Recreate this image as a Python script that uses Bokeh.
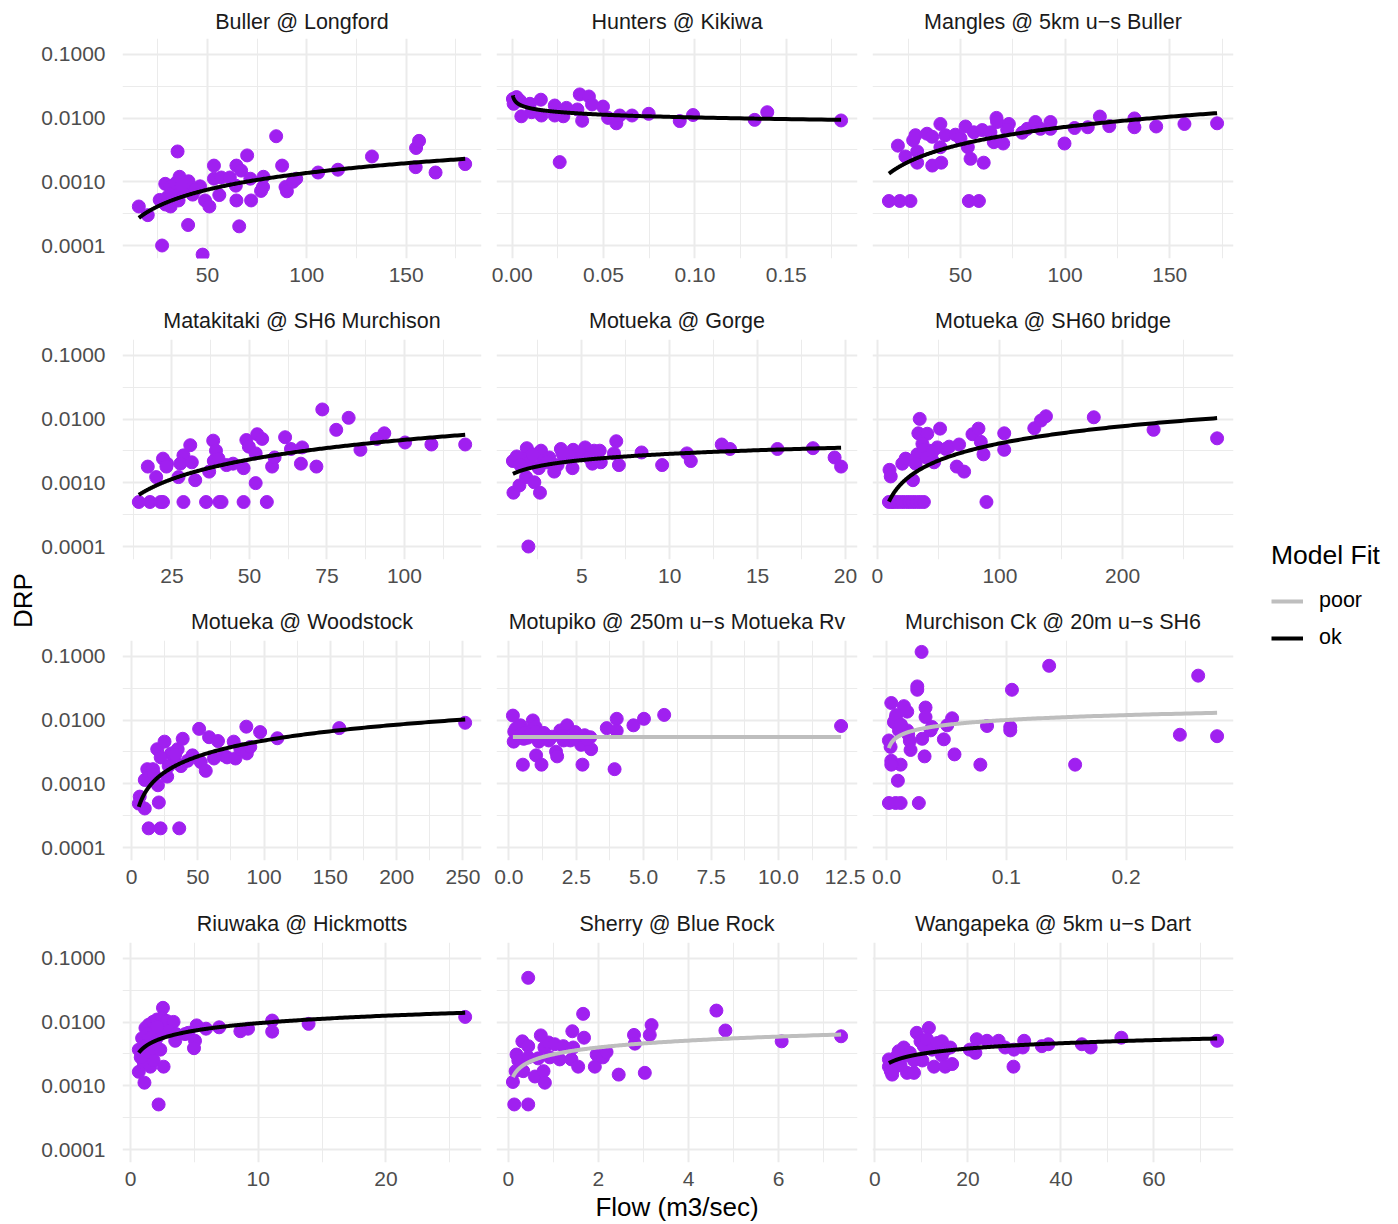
import numpy as np
from bokeh.plotting import figure
from bokeh.models import (Range1d, FixedTicker, PrintfTickFormatter, Legend,
                          LegendItem, Label)
from bokeh.layouts import row, column
from bokeh.embed import file_html
from bokeh.resources import INLINE

FONT = "Liberation Sans"
POINT_COLOR = "#A020F0"
FIT_COLORS = {"poor": "#BEBEBE", "ok": "#000000"}
GRID_COLOR = "#EBEBEB"

# ---------------- data ----------------
BULLER_FLOW = [15.5, 20, 27.2, 35, 26, 28.8, 31.3, 33, 31.5, 29, 36, 40.5, 38, 35.5, 40.3,
               42.6, 46.3, 47.6, 48.8, 51, 53.3, 53.3, 56, 57, 61.3, 64.6, 64.3, 64.6, 66, 67,
               70, 71.6, 72, 77, 78.2, 78, 84.6, 87.6, 89.3, 90, 93, 94.7, 105.7, 115.7, 132.8,
               155, 156.5, 154.8, 164.8, 179.7, 34, 37, 44, 30]
BULLER_DRP = [0.00041, 0.0003, 0.0001, 0.0030, 0.00052, 0.00093, 0.00083, 0.00069, 0.00041,
              0.00044, 0.0012, 0.00102, 0.00078, 0.00051, 0.00021, 0.00063, 0.00085, 0.000072,
              0.00051, 0.00041, 0.0018, 0.00112, 0.00062, 0.00117, 0.00117, 0.0018, 0.00087,
              0.00051, 0.0002, 0.0015, 0.0026, 0.00112, 0.00051, 0.00072, 0.0012, 0.00083,
              0.0052, 0.0018, 0.00083, 0.00071, 0.0010, 0.00112, 0.0014, 0.00155, 0.0025,
              0.0034, 0.0044, 0.0017, 0.0014, 0.0019, 0.00095, 0.00088, 0.00075, 0.00058]

HUNTERS_FLOW = [0.0004, 0.0008, 0.0024, 0.0042, 0.005, 0.0097, 0.0106, 0.0157, 0.016, 0.0233,
                0.0233, 0.026, 0.028, 0.0297, 0.0357, 0.037, 0.0383, 0.042, 0.0437, 0.0497,
                0.0525, 0.057, 0.0589, 0.0656, 0.0747, 0.0917, 0.099, 0.1327, 0.1396, 0.18]
HUNTERS_DRP = [0.020, 0.0168, 0.0214, 0.0189, 0.0107, 0.0168, 0.0124, 0.0195, 0.011, 0.0158,
               0.011, 0.00204, 0.0107, 0.0145, 0.0137, 0.0236, 0.0091, 0.0219, 0.0164, 0.0152,
               0.0101, 0.0083, 0.011, 0.011, 0.0117, 0.009, 0.0112, 0.0094, 0.0124, 0.0092]

MANGLES_FLOW = [15.8, 21, 26.1, 20.1, 23.7, 29.3, 29.3, 27.4, 28.5, 34, 36.5, 36.5, 40.4, 40.4,
                40.8, 42.8, 47.6, 50, 52.4, 53.5, 54.8, 54, 58.8, 56.4, 60.4, 61.1, 64.3, 65.9,
                67.2, 67.5, 70.4, 73.1, 72.3, 79.5, 81.9, 85.8, 88.2, 93, 93, 99.7, 104.5,
                110.8, 116.6, 121.1, 133.1, 133.1, 143.5, 157, 172.6]
MANGLES_DRP = [0.0005, 0.0005, 0.0005, 0.0037, 0.0025, 0.0030, 0.0020, 0.0045, 0.0054, 0.0057,
               0.0051, 0.0018, 0.0081, 0.0035, 0.0020, 0.0054, 0.0055, 0.0048, 0.0074, 0.0035,
               0.0023, 0.0005, 0.0005, 0.0060, 0.0065, 0.0020, 0.0060, 0.0042, 0.0101, 0.0087,
               0.0040, 0.0081, 0.0066, 0.0059, 0.0068, 0.0087, 0.0068, 0.0087, 0.0068, 0.0040,
               0.0070, 0.0072, 0.0106, 0.0075, 0.0099, 0.0072, 0.0074, 0.0081, 0.0083]

MATAKITAKI_FLOW = [14.3, 17.9, 21.3, 22.1, 28.7, 36, 40.3, 41, 48.1, 55.6, 17.2, 19.9, 22.1,
                   23.4, 23.2, 27.1, 28.7, 27.7, 30.9, 31.4, 32.5, 37, 38.3, 39.2, 38.5, 40,
                   42.6, 44.7, 48.1, 49, 49.8, 52, 52, 52.5, 54.1, 57.3, 58.1, 61.5, 63.4, 66.6,
                   67, 71.6, 73.5, 78, 82, 85.8, 91.1, 93.5, 100.2, 108.7, 119.6]
MATAKITAKI_DRP = [0.0005, 0.0005, 0.0005, 0.0005, 0.0005, 0.0005, 0.0005, 0.0005, 0.0005,
                  0.0005, 0.0018, 0.00123, 0.0024, 0.0020, 0.0018, 0.00123, 0.0027, 0.0020,
                  0.0039, 0.0021, 0.0011, 0.0015, 0.0046, 0.0032, 0.0022, 0.0024, 0.0019,
                  0.0020, 0.0017, 0.0047, 0.0037, 0.0029, 0.00099, 0.0058, 0.0049, 0.0018,
                  0.0025, 0.0052, 0.0034, 0.0020, 0.0036, 0.0018, 0.0142, 0.0068, 0.0105,
                  0.0033, 0.0049, 0.0060, 0.0043, 0.0040, 0.0040]

GORGE_FLOW = [1.08, 1.11, 1.45, 1.87, 1.96, 1.64, 1.83, 2.02, 2.30, 2.55, 2.62, 2.68, 2.77,
              3.15, 3.43, 3.62, 3.81, 4.09, 4.47, 4.51, 4.75, 5.19, 5.6, 5.7, 6.02, 6.08, 6.83,
              6.96, 7.11, 8.40, 9.57, 10.98, 11.2, 12.96, 13.43, 16.13, 18.15, 19.38, 19.75,
              1.3, 1.5, 2.2, 3.0, 3.9, 5.0, 5.4]
GORGE_DRP = [0.0022, 0.0007, 0.00091, 0.0035, 0.0001, 0.0024, 0.00123, 0.0021, 0.00102, 0.0017,
             0.0007, 0.0032, 0.0022, 0.0025, 0.0015, 0.0019, 0.0034, 0.0025, 0.0017, 0.0033,
             0.0027, 0.0036, 0.0020, 0.0032, 0.0032, 0.0021, 0.0029, 0.0045, 0.0019, 0.0030,
             0.0019, 0.0029, 0.0022, 0.0040, 0.0034, 0.0034, 0.0035, 0.0025, 0.0018, 0.0026,
             0.0019, 0.0028, 0.0021, 0.0029, 0.0027, 0.0025]

SH60_FLOW = [9.5, 12, 14, 17, 20, 23, 26, 29, 32, 35, 38, 89, 10, 11, 20.4, 23.1, 29.1, 34.6,
             33.5, 40.8, 36.8, 32.7, 31.3, 42.2, 46.3, 49, 51.2, 55.8, 58.6, 64.8, 66.7, 70.8,
             77.6, 82.5, 84.4, 86.6, 103.5, 103.5, 128, 133.4, 137.5, 176.5, 225.2, 277, 38,
             44, 40, 45]
SH60_DRP = [0.0005, 0.0005, 0.0005, 0.0005, 0.0005, 0.0005, 0.0005, 0.0005, 0.0005, 0.0005,
            0.0005, 0.0005, 0.0016, 0.00126, 0.0020, 0.0024, 0.0011, 0.0101, 0.0060, 0.0059,
            0.0041, 0.0028, 0.0020, 0.0032, 0.0021, 0.0036, 0.0071, 0.0034, 0.0037, 0.0018,
            0.0040, 0.0015, 0.0058, 0.0071, 0.0044, 0.0028, 0.0060, 0.0033, 0.0072, 0.0095,
            0.0111, 0.0107, 0.0068, 0.0050, 0.0033, 0.0028, 0.0025, 0.0031]

WOODSTOCK_FLOW = [12.9, 21.9, 36, 6.2, 5.5, 10, 20.6, 10, 11.9, 14.9, 19.9, 16.2, 19.4, 24.9,
                  26.9, 29.9, 32.3, 34.8, 38.6, 37.3, 42.3, 46, 51, 52.2, 56, 58.5, 62.2, 65.2,
                  69.7, 72.1, 77.1, 78.4, 82.1, 86.6, 87, 89.6, 97, 110, 156.7, 251.7, 13, 17,
                  22, 28, 33]
WOODSTOCK_DRP = [0.0002, 0.0002, 0.0002, 0.00063, 0.00049, 0.00041, 0.00051, 0.00115, 0.0017,
                 0.00145, 0.00095, 0.0017, 0.0035, 0.0046, 0.0013, 0.0030, 0.0023, 0.0035,
                 0.0051, 0.0019, 0.0023, 0.0028, 0.0073, 0.0022, 0.0016, 0.0054, 0.0025,
                 0.0047, 0.0028, 0.0026, 0.0046, 0.0025, 0.0035, 0.0079, 0.0030, 0.0038,
                 0.0065, 0.0052, 0.0075, 0.0091, 0.0012, 0.0014, 0.0026, 0.0019, 0.0029]

MOTUPIKO_FLOW = [0.15, 0.18, 0.25, 0.31, 0.43, 0.52, 0.55, 0.74, 0.89, 0.99, 1.01, 1.11, 1.21,
                 1.35, 1.48, 1.75, 1.79, 1.91, 2.03, 2.16, 2.28, 2.46, 2.68, 2.73, 2.81, 3.02,
                 3.05, 3.63, 3.92, 4.0, 4.0, 4.62, 5.01, 5.76, 12.32, 0.2, 0.35, 0.45, 0.6,
                 0.7, 0.8, 1.0, 1.3, 1.6, 2.0, 2.4, 2.9]
MOTUPIKO_DRP = [0.0118, 0.0046, 0.0073, 0.0058, 0.0083, 0.0020, 0.0051, 0.0069, 0.0099, 0.0078,
                0.0028, 0.0046, 0.0020, 0.0058, 0.0048, 0.0032, 0.0027, 0.0069, 0.0048, 0.0083,
                0.0048, 0.0065, 0.0041, 0.0020, 0.0058, 0.0054, 0.0035, 0.0075, 0.0017, 0.0105,
                0.0068, 0.0083, 0.0105, 0.0121, 0.0081, 0.0066, 0.0078, 0.0062, 0.0064, 0.0053,
                0.0061, 0.0066, 0.0063, 0.0055, 0.0057, 0.0052, 0.0050]

MURCHISON_FLOW = [0.0292, 0.1358, 0.2603, 0.0256, 0.0256, 0.1047, 0.0039, 0.0144, 0.0172,
                  0.0325, 0.0325, 0.0075, 0.0061, 0.0547, 0.0506, 0.038, 0.0367, 0.0172, 0.0103,
                  0.0839, 0.1033, 0.1033, 0.0297, 0.0478, 0.0194, 0.0019, 0.0033, 0.02, 0.0317,
                  0.0567, 0.0039, 0.0117, 0.0039, 0.0783, 0.1575, 0.245, 0.2761, 0.0094, 0.0019,
                  0.0075, 0.0117, 0.0269, 0.008, 0.012, 0.018]
MURCHISON_DRP = [0.118, 0.0714, 0.050, 0.0339, 0.030, 0.030, 0.0186, 0.0166, 0.0136, 0.0158,
                 0.0112, 0.0107, 0.0093, 0.0107, 0.0083, 0.0078, 0.0069, 0.0069, 0.0069, 0.0081,
                 0.0078, 0.0069, 0.0051, 0.0050, 0.0047, 0.0048, 0.0038, 0.0034, 0.0027, 0.0029,
                 0.0023, 0.0020, 0.0020, 0.0020, 0.0020, 0.0059, 0.0056, 0.00112, 0.0005, 0.0005,
                 0.0005, 0.0005, 0.0120, 0.0085, 0.0060]

RIUWAKA_FLOW = [2.54, 2.2, 1.09, 0.65, 0.65, 0.91, 1.17, 1.42, 1.76, 2.07, 2.46, 2.85, 3.37,
                1.30, 1.68, 2.07, 2.46, 2.98, 3.50, 1.04, 1.55, 1.81, 2.59, 2.33, 3.58, 4.27,
                4.53, 5.05, 4.97, 5.18, 5.91, 6.94, 8.6, 9.2, 11.09, 11.09, 13.94, 26.2, 1.0,
                1.3, 1.6, 1.9, 2.1, 0.8]
RIUWAKA_DRP = [0.0168, 0.00051, 0.00112, 0.00166, 0.0037, 0.0056, 0.0081, 0.0091, 0.0101,
               0.0110, 0.0117, 0.0104, 0.0101, 0.0045, 0.0037, 0.0057, 0.0068, 0.0072, 0.0051,
               0.0023, 0.0020, 0.0025, 0.0020, 0.0037, 0.0065, 0.0065, 0.0068, 0.0051, 0.0039,
               0.0089, 0.0079, 0.0083, 0.0072, 0.0079, 0.0106, 0.0071, 0.0094, 0.0121, 0.0030,
               0.0065, 0.0058, 0.0046, 0.0085, 0.0028]

SHERRY_FLOW = [0.44, 1.66, 4.62, 3.18, 4.82, 3.14, 2.79, 2.81, 1.42, 1.68, 0.72, 0.31, 0.44,
               0.8, 0.89, 1.03, 1.22, 1.44, 0.18, 0.22, 0.44, 0.66, 0.92, 1.14, 1.40, 1.55,
               1.92, 1.96, 2.10, 2.18, 0.16, 0.33, 0.59, 0.78, 0.81, 0.10, 2.45, 3.03, 0.13,
               0.44, 6.07, 7.39]
SHERRY_DRP = [0.0497, 0.0135, 0.0152, 0.0090, 0.0074, 0.0063, 0.0063, 0.0046, 0.0072, 0.0057,
              0.0062, 0.0050, 0.0042, 0.0040, 0.0048, 0.0045, 0.0042, 0.0040, 0.0031, 0.0025,
              0.0028, 0.0027, 0.0028, 0.0026, 0.0026, 0.0020, 0.0020, 0.0031, 0.0028, 0.0034,
              0.0017, 0.0017, 0.0014, 0.0017, 0.00112, 0.00115, 0.0015, 0.0016, 0.00051,
              0.00051, 0.0050, 0.0060]

WANGAPEKA_FLOW = [11.6, 9.0, 3.0, 3.0, 3.7, 4.1, 5.1, 6.2, 6.9, 8.4, 8.4, 9.8, 10.5, 11.2,
                  12.3, 13.4, 14.4, 15.2, 16.2, 10.2, 12.7, 14.4, 15.1, 16.6, 20.4, 21.9, 21.6,
                  24.1, 26.6, 28, 29.8, 29.9, 32.1, 31.8, 35.9, 37.3, 44.5, 46.4, 53, 73.6, 4.5,
                  5.5, 6.5, 7.5, 3.4]
WANGAPEKA_DRP = [0.0081, 0.0068, 0.0020, 0.0026, 0.0015, 0.0019, 0.0035, 0.0040, 0.0016,
                 0.0016, 0.0025, 0.0050, 0.0042, 0.0054, 0.0037, 0.0047, 0.0050, 0.0037,
                 0.0040, 0.0025, 0.0020, 0.0030, 0.0020, 0.0022, 0.0037, 0.0054, 0.0033,
                 0.0051, 0.0051, 0.0040, 0.0020, 0.0037, 0.0051, 0.0040, 0.0042, 0.0045,
                 0.0045, 0.0040, 0.0057, 0.0051, 0.0028, 0.0021, 0.0030, 0.0033, 0.0017]

SITE_NAMES = ["Buller @ Longford", "Hunters @ Kikiwa", "Mangles @ 5km u\u2212s Buller",
              "Matakitaki @ SH6 Murchison", "Motueka @ Gorge", "Motueka @ SH60 bridge",
              "Motueka @ Woodstock", "Motupiko @ 250m u\u2212s Motueka Rv",
              "Murchison Ck @ 20m u\u2212s SH6", "Riuwaka @ Hickmotts", "Sherry @ Blue Rock",
              "Wangapeka @ 5km u\u2212s Dart"]
SITE_FLOWS = [BULLER_FLOW, HUNTERS_FLOW, MANGLES_FLOW, MATAKITAKI_FLOW, GORGE_FLOW, SH60_FLOW,
              WOODSTOCK_FLOW, MOTUPIKO_FLOW, MURCHISON_FLOW, RIUWAKA_FLOW, SHERRY_FLOW,
              WANGAPEKA_FLOW]
SITE_DRPS = [BULLER_DRP, HUNTERS_DRP, MANGLES_DRP, MATAKITAKI_DRP, GORGE_DRP, SH60_DRP,
             WOODSTOCK_DRP, MOTUPIKO_DRP, MURCHISON_DRP, RIUWAKA_DRP, SHERRY_DRP, WANGAPEKA_DRP]

# power-law model fits: log10(DRP) = intercept + slope * log10(Flow)
FIT_INTERCEPT = [-4.605, -2.134, -3.968, -4.371, -2.870, -4.172, -3.972, -2.266, -1.742,
                 -2.406, -2.505, -2.776]
FIT_SLOPE = [0.872, -0.145, 0.915, 1.023, 0.325, 0.896, 0.826, 0.0, 0.2556, 0.390, 0.358, 0.278]
FIT_CLASS = ["ok", "ok", "ok", "ok", "ok", "ok", "ok", "poor", "poor", "ok", "poor", "ok"]

X_MAJOR = [[50, 100, 150], [0, 0.05, 0.10, 0.15], [50, 100, 150], [25, 50, 75, 100],
           [5, 10, 15, 20], [0, 100, 200], [0, 50, 100, 150, 200, 250],
           [0, 2.5, 5, 7.5, 10, 12.5], [0, 0.1, 0.2], [0, 10, 20], [0, 2, 4, 6],
           [0, 20, 40, 60]]
X_MINOR = [[25, 75, 125, 175], [0.025, 0.075, 0.125, 0.175], [25, 75, 125, 175],
           [12.5, 37.5, 62.5, 87.5, 112.5], [2.5, 7.5, 12.5, 17.5], [50, 150, 250],
           [25, 75, 125, 175, 225], [1.25, 3.75, 6.25, 8.75, 11.25], [0.05, 0.15, 0.25],
           [5, 15, 25], [1, 3, 5, 7], [10, 30, 50, 70]]
X_FORMAT = ["%d", "%.2f", "%d", "%d", "%d", "%d", "%d", "%.1f", "%.1f", "%d", "%d", "%d"]
Y_MAJOR = [0.0001, 0.001, 0.01, 0.1]
Y_MINOR = [10 ** -3.5, 10 ** -2.5, 10 ** -1.5]
Y_LIMITS = (10 ** -4.204, 10 ** -0.749)

# ---------------- layout ----------------
ROW_TOP = [38, 42, 42, 42]
ROW_BOTTOM = [39, 39, 40, 62]
TITLE_STANDOFF = [10, 14, 14, 14]
COL_LB = [82, 8, 7]
COL_RB = [7, 8, 2]
LEFT_W = 38
LEG_W = 163
FRAME_W = 361
FRAME_H = 220
TOTAL_H = sum(ROW_TOP) + sum(ROW_BOTTOM) + 4 * FRAME_H

y_range = Range1d(*Y_LIMITS)


def make_panel(i):
    r, c = divmod(i, 3)
    flow = np.array(SITE_FLOWS[i], dtype=float)
    drp = np.array(SITE_DRPS[i], dtype=float)
    lo, hi = flow.min(), flow.max()
    pad = 0.05 * (hi - lo)
    p = figure(width=COL_LB[c] + FRAME_W + COL_RB[c],
               height=ROW_TOP[r] + FRAME_H + ROW_BOTTOM[r],
               x_range=Range1d(lo - pad, hi + pad), y_range=y_range, y_axis_type="log",
               y_axis_location="left" if c == 0 else None,
               output_backend="svg", toolbar_location=None,
               min_border_left=COL_LB[c], min_border_right=COL_RB[c],
               min_border_top=ROW_TOP[r], min_border_bottom=ROW_BOTTOM[r],
               title=SITE_NAMES[i])
    p.outline_line_color = None
    p.background_fill_color = "white"
    p.border_fill_color = "white"
    t = p.title
    t.align = "center"
    t.text_font = FONT
    t.text_font_size = "21.5px"
    t.text_font_style = "normal"
    t.text_color = "#1A1A1A"
    t.standoff = TITLE_STANDOFF[r]

    xt = FixedTicker(ticks=X_MAJOR[i], minor_ticks=X_MINOR[i])
    yt = FixedTicker(ticks=Y_MAJOR, minor_ticks=Y_MINOR)
    for g, tk in ((p.xgrid, xt), (p.ygrid, yt)):
        g.ticker = tk
        g.grid_line_color = GRID_COLOR
        g.grid_line_width = 2
        g.minor_grid_line_color = GRID_COLOR
        g.minor_grid_line_width = 1

    ax = p.xaxis[0]
    ax.ticker = xt
    ax.formatter = PrintfTickFormatter(format=X_FORMAT[i])
    ax.axis_line_color = None
    ax.major_tick_line_color = None
    ax.minor_tick_line_color = None
    ax.major_label_standoff = 3
    ax.major_label_text_font = FONT
    ax.major_label_text_font_size = "21px"
    ax.major_label_text_color = "#4D4D4D"
    if r == 3:
        ax.axis_label = "Flow (m3/sec)" if c == 1 else " "
        ax.axis_label_standoff = 3
        ax.axis_label_text_font = FONT
        ax.axis_label_text_font_size = "26px"
        ax.axis_label_text_font_style = "normal"
        ax.axis_label_text_color = "black"

    if c == 0:
        ay = p.yaxis[0]
        ay.ticker = yt
        ay.formatter = PrintfTickFormatter(format="%.4f")
        ay.axis_line_color = None
        ay.major_tick_line_color = None
        ay.minor_tick_line_color = None
        ay.major_label_standoff = 11
        ay.major_label_text_font = FONT
        ay.major_label_text_font_size = "21px"
        ay.major_label_text_color = "#4D4D4D"

    p.scatter(flow, drp, size=13, fill_color=POINT_COLOR, line_color=POINT_COLOR)

    xs = np.geomspace(lo, hi, 300)
    ys = 10 ** (FIT_INTERCEPT[i] + FIT_SLOPE[i] * np.log10(xs))
    p.line(xs, ys, line_width=4, line_color=FIT_COLORS[FIT_CLASS[i]])
    return p


panels = [make_panel(i) for i in range(12)]
grid = column(*[row(*panels[k * 3:(k + 1) * 3]) for k in range(4)])

# y-axis title strip
lab = figure(width=LEFT_W, height=TOTAL_H, x_range=Range1d(0, LEFT_W),
             y_range=Range1d(0, TOTAL_H), output_backend="svg", toolbar_location=None,
             x_axis_location=None, y_axis_location=None, min_border=0)
lab.outline_line_color = None
lab.grid.visible = False
lab.add_layout(Label(x=22, y=TOTAL_H - 600, text="DRP", angle=np.pi / 2, text_align="center",
                     text_baseline="middle", text_font=FONT, text_font_size="26px",
                     text_color="black"))

# legend strip
leg = figure(width=LEG_W, height=TOTAL_H, x_range=Range1d(0, 1), y_range=Range1d(0, 1),
             output_backend="svg", toolbar_location=None, x_axis_location=None,
             y_axis_location=None, min_border=0)
leg.outline_line_color = None
leg.grid.visible = False
r_poor = leg.line(x=[-10, -9], y=[-10, -9], line_color=FIT_COLORS["poor"], line_width=4)
r_ok = leg.line(x=[-10, -9], y=[-10, -9], line_color=FIT_COLORS["ok"], line_width=4)
legend = Legend(items=[LegendItem(label="poor", renderers=[r_poor]),
                       LegendItem(label="ok", renderers=[r_ok])],
                location=(36, TOTAL_H - 650), title="Model Fit",
                border_line_color=None, background_fill_alpha=0, padding=0, margin=0,
                spacing=12, glyph_width=32, glyph_height=20, label_height=20,
                label_standoff=16, title_standoff=17,
                title_text_font=FONT, title_text_font_size="26.5px",
                title_text_font_style="normal",
                label_text_font=FONT, label_text_font_size="21.5px", label_text_color="black",
                title_text_color="black")
leg.add_layout(legend)

layout = row(lab, grid, leg)

open("out.html", "w").write(file_html(layout, INLINE))
